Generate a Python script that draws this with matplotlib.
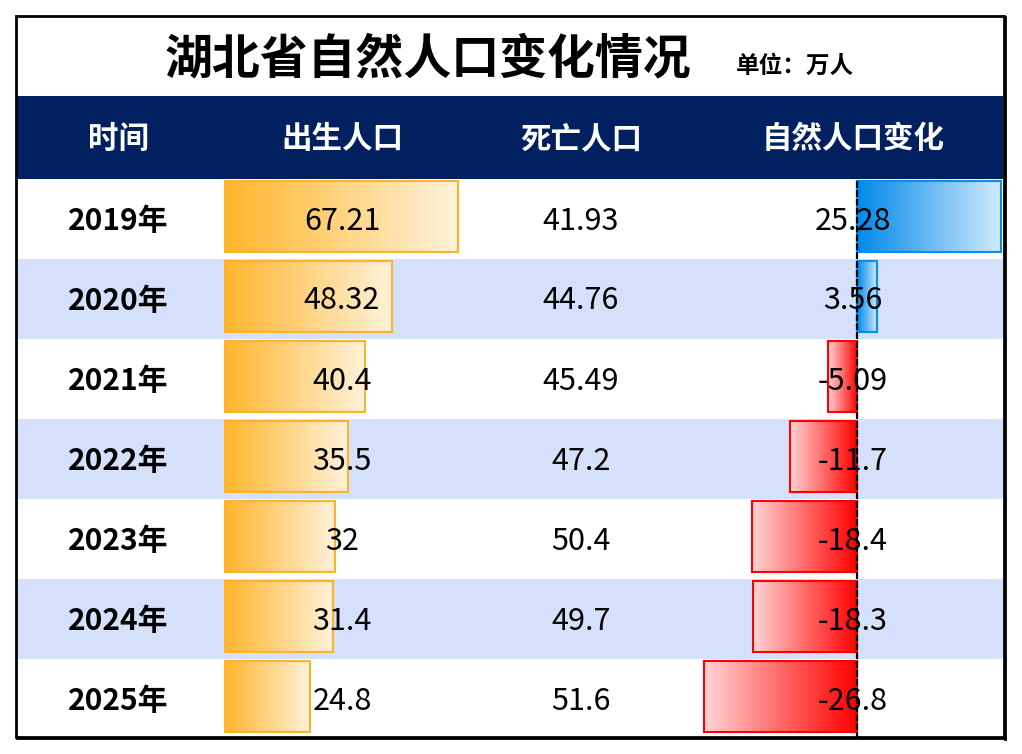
import numpy as np
import matplotlib.pyplot as plt
from matplotlib.patches import Rectangle
from matplotlib.colors import LinearSegmentedColormap

plt.rcParams['font.family'] = ['Noto Sans CJK SC', 'DejaVu Sans']

# --- data (万人) ---
years = ['2019年', '2020年', '2021年', '2022年', '2023年', '2024年', '2025年']
births = [67.21, 48.32, 40.4, 35.5, 32, 31.4, 24.8]
deaths = [41.93, 44.76, 45.49, 47.2, 50.4, 49.7, 51.6]
change = [25.28, 3.56, -5.09, -11.7, -18.4, -18.3, -26.8]
birth_lbl = ['67.21', '48.32', '40.4', '35.5', '32', '31.4', '24.8']
death_lbl = ['41.93', '44.76', '45.49', '47.2', '50.4', '49.7', '51.6']
change_lbl = ['25.28', '3.56', '-5.09', '-11.7', '-18.4', '-18.3', '-26.8']
headers = ['时间', '出生人口', '死亡人口', '自然人口变化']
title = '湖北省自然人口变化情况'
unit = '单位：万人'

# --- layout (pixels) ---
W, H = 1022, 754
L, R = 17, 1003
HEAD_TOP, DATA_TOP, DATA_BOT = 96, 179, 739
ROW_H = (DATA_BOT - DATA_TOP) / len(years)
col_x = [118, 342, 581, 853]
NAVY = '#002060'
BAND = '#D5E1FA'

cmap_birth = LinearSegmentedColormap.from_list('b', ['#FFB52B', '#FFF2DA'])
cmap_pos = LinearSegmentedColormap.from_list('p', ['#0088EA', '#D3ECFC'])
cmap_neg = LinearSegmentedColormap.from_list('n', ['#FFD4D4', '#FF0000'])
grad = np.linspace(0, 1, 256).reshape(1, -1)

fig = plt.figure(figsize=(W / 100, H / 100), dpi=100)
bg = fig.add_axes([0, 0, 1, 1])
bg.set_xlim(0, W)
bg.set_ylim(H, 0)
bg.axis('off')

# header + row bands
bg.add_patch(Rectangle((L, HEAD_TOP), R - L, DATA_TOP - HEAD_TOP, color=NAVY, lw=0))
for i in range(len(years)):
    if i % 2 == 1:
        bg.add_patch(Rectangle((L, DATA_TOP + i * ROW_H), R - L, ROW_H, color=BAND, lw=0))

# outer border with a slight shadow on right/bottom
bg.add_patch(Rectangle((16, 16), 988, 721, fill=False, ec='black', lw=2, zorder=10))
bg.plot([1005, 1005], [17, 739], color='black', lw=2, zorder=10)
bg.plot([17, 1005], [738, 738], color='black', lw=2, zorder=10)

bg.text(428, 59, title, ha='center', va='center', fontsize=34.5, fontweight='bold')
bg.text(795, 66, unit, ha='center', va='center', fontsize=17, fontweight='bold')

for x, h in zip(col_x, headers):
    bg.text(x, 139, h, ha='center', va='center', fontsize=22, fontweight='bold', color='white')


def px_axes(x0, x1):
    ax = fig.add_axes([x0 / W, 1 - DATA_BOT / H, (x1 - x0) / W, (DATA_BOT - DATA_TOP) / H])
    ax.patch.set_alpha(0)
    ax.axis('off')
    return ax


def grad_bar(ax, x0, x1, y0, y1, cmap, ec):
    rect = Rectangle((x0, y0), x1 - x0, y1 - y0, fc='none', ec=ec, lw=1.5, zorder=3)
    ax.add_patch(rect)
    im = ax.imshow(grad, cmap=cmap, extent=(x0, x1, y1, y0), aspect='auto',
                   interpolation='bilinear', zorder=2)
    im.set_clip_path(rect)


# births bars: 3.48 px per unit
bpx = 234 / 67.21
axb = px_axes(224, 470)
for i, v in enumerate(births):
    grad_bar(axb, 0, v, i + 0.025, i + 0.91, cmap_birth, '#FFB22A')
axb.set_xlim(0, (470 - 224) / bpx)
axb.set_ylim(len(years), 0)

# natural change bars: zero at x=857, 5.7 px per unit
zx, cpx = 857, 5.7
axc = px_axes(680, R)
for i, v in enumerate(change):
    if v >= 0:
        grad_bar(axc, 0, v, i + 0.025, i + 0.91, cmap_pos, '#0A8CF0')
    else:
        grad_bar(axc, v, 0, i + 0.025, i + 0.91, cmap_neg, '#FF0000')
axc.axvline(0, color='black', lw=1.6, ls=(0, (3, 1)), zorder=4)
axc.set_xlim(-(zx - 680) / cpx, (R - zx) / cpx)
axc.set_ylim(len(years), 0)

# text on top
for i in range(len(years)):
    yc = DATA_TOP + (i + 0.5) * ROW_H + 2
    bg.text(col_x[0], yc, years[i], ha='center', va='center', fontsize=21.5, fontweight='bold', zorder=20)
    fig.text(col_x[1] / W, 1 - yc / H, birth_lbl[i], ha='center', va='center', fontsize=22, zorder=20)
    fig.text(col_x[2] / W, 1 - yc / H, death_lbl[i], ha='center', va='center', fontsize=22, zorder=20)
    fig.text(col_x[3] / W, 1 - yc / H, change_lbl[i], ha='center', va='center', fontsize=22, zorder=20)

fig.savefig('out.png', dpi=100)
